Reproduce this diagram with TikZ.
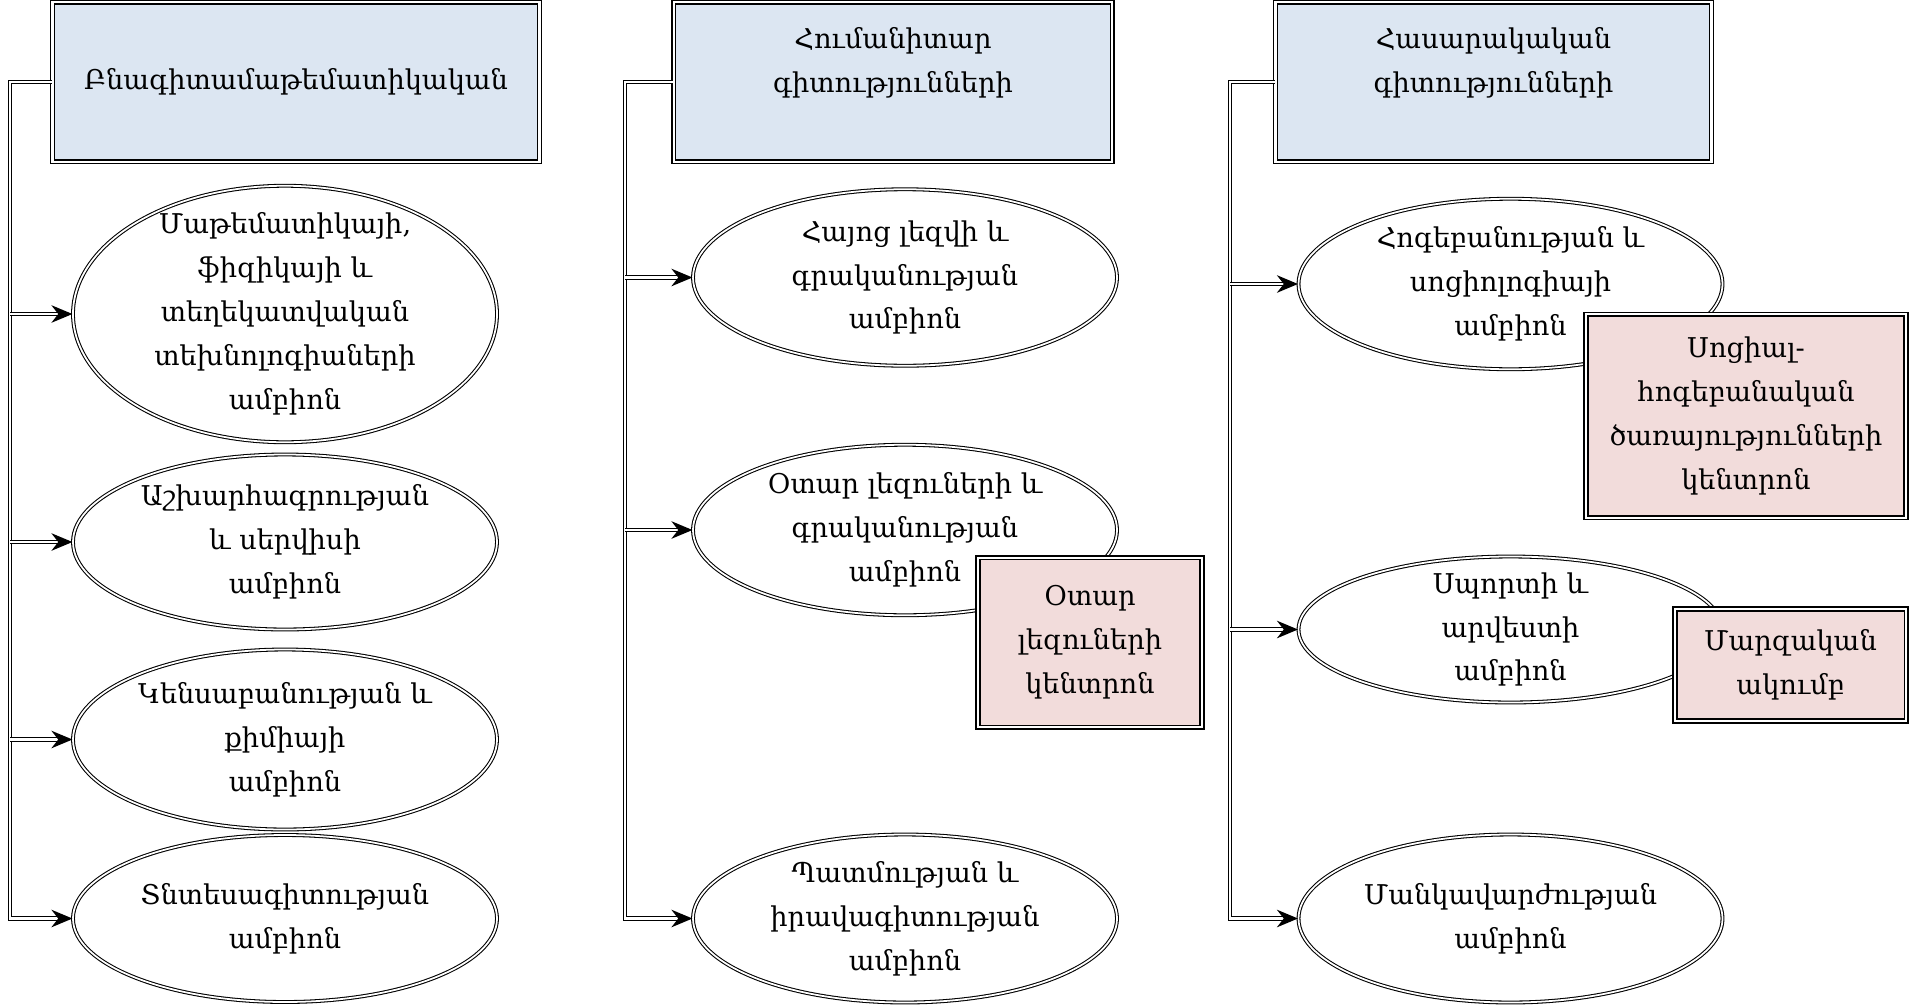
\documentclass[tikz,border=0pt]{standalone}
\usepackage{fontspec}
\setmainfont{DejaVu Serif}
\usetikzlibrary{shapes.geometric,arrows.meta}

\definecolor{headBlue}{RGB}{220,230,242}
\definecolor{centerPink}{RGB}{242,220,219}

\tikzset{
	facultyBox/.style = {draw, double, line width = 0.9pt, double distance = 1.3pt,
		fill = headBlue, align = center, inner sep = 0pt},
	chairEllipse/.style = {ellipse, draw, double, line width = 0.6pt, double distance = 1pt,
		fill = white, align = center, inner xsep = 0pt, inner ysep = -6pt, minimum width = 8.48cm},
	centerBox/.style = {draw, double, line width = 0.9pt, double distance = 1.3pt,
		fill = centerPink, align = center, inner sep = 0pt},
	link/.style = {draw, double, line width = 0.8pt, double distance = 1.2pt},
	linkArrow/.style = {link, -{Stealth[length = 12pt, width = 10pt]}}
}

\begin{document}
\begin{tikzpicture}[font = \fontsize{15.5}{25}\selectfont]

	\useasboundingbox (0, 0) rectangle (38.2, -20.12);

	% bus lines of the three faculties
	\coordinate (busA) at (0.2, 0);
	\coordinate (busB) at (12.5, 0);
	\coordinate (busC) at (24.6, 0);

	% faculty headers
	\node[facultyBox, minimum width = 9.74cm, minimum height = 3.19cm] (natSci) at (5.92, -1.64) {Բնագիտամաթեմատիկական};
	\node[facultyBox, minimum width = 8.77cm, minimum height = 3.19cm] (humSci) at (17.86, -1.64) {Հումանիտար\\գիտությունների\\~};
	\node[facultyBox, minimum width = 8.72cm, minimum height = 3.19cm] (socSci) at (29.87, -1.64) {Հասարակական\\գիտությունների\\~};

	% chairs of the first faculty
	\node[chairEllipse, minimum height = 5.02cm] (mathChair) at (5.70, -6.28) {Մաթեմատիկայի,\\ֆիզիկայի և\\տեղեկատվական\\տեխնոլոգիաների\\ամբիոն};
	\node[chairEllipse, minimum height = 3.5cm] (geoChair) at (5.70, -10.84) {Աշխարհագրության\\և սերվիսի\\ամբիոն};
	\node[chairEllipse, minimum height = 3.6cm] (bioChair) at (5.70, -14.79) {Կենսաբանության և\\քիմիայի\\ամբիոն};
	\node[chairEllipse, minimum height = 3.34cm] (ecoChair) at (5.70, -18.37) {Տնտեսագիտության\\ամբիոն};

	% chairs of the second faculty
	\node[chairEllipse, minimum height = 3.53cm] (armChair) at (18.10, -5.55) {Հայոց լեզվի և\\գրականության\\ամբիոն};
	\node[chairEllipse, minimum height = 3.41cm] (langChair) at (18.10, -10.60) {Օտար լեզուների և\\գրականության\\ամբիոն};
	\node[chairEllipse, minimum height = 3.36cm] (histChair) at (18.10, -18.37) {Պատմության և\\իրավագիտության\\ամբիոն};

	% chairs of the third faculty
	\node[chairEllipse, minimum height = 3.41cm] (psyChair) at (30.21, -5.68) {Հոգեբանության և\\սոցիոլոգիայի\\ամբիոն};
	\node[chairEllipse, minimum height = 2.92cm] (sportChair) at (30.21, -12.59) {Սպորտի և\\արվեստի\\ամբիոն};
	\node[chairEllipse, minimum height = 3.36cm] (pedChair) at (30.21, -18.37) {Մանկավարժության\\ամբիոն};

	% centres lying over the chairs
	\node[centerBox, minimum width = 4.48cm, minimum height = 3.39cm] (langCenter) at (21.80, -12.85) {Օտար\\լեզուների\\կենտրոն};
	\node[centerBox, minimum width = 6.40cm, minimum height = 4.07cm] (psyCenter) at (34.92, -8.32) {Սոցիալ-\\հոգեբանական\\ծառայությունների\\կենտրոն};
	\node[centerBox, minimum width = 4.63cm, minimum height = 2.24cm] (sportClub) at (35.81, -13.30) {Մարզական\\ակումբ};

	% first faculty
	\draw[linkArrow] (natSci.west) -- (natSci.west -| busA) |- (ecoChair.west);
	\draw[linkArrow] (busA |- mathChair.west) -- (mathChair.west);
	\draw[linkArrow] (busA |- geoChair.west) -- (geoChair.west);
	\draw[linkArrow] (busA |- bioChair.west) -- (bioChair.west);

	% second faculty
	\draw[linkArrow] (humSci.west) -- (humSci.west -| busB) |- (histChair.west);
	\draw[linkArrow] (busB |- armChair.west) -- (armChair.west);
	\draw[linkArrow] (busB |- langChair.west) -- (langChair.west);

	% third faculty
	\draw[linkArrow] (socSci.west) -- (socSci.west -| busC) |- (pedChair.west);
	\draw[linkArrow] (busC |- psyChair.west) -- (psyChair.west);
	\draw[linkArrow] (busC |- sportChair.west) -- (sportChair.west);

\end{tikzpicture}
\end{document}
